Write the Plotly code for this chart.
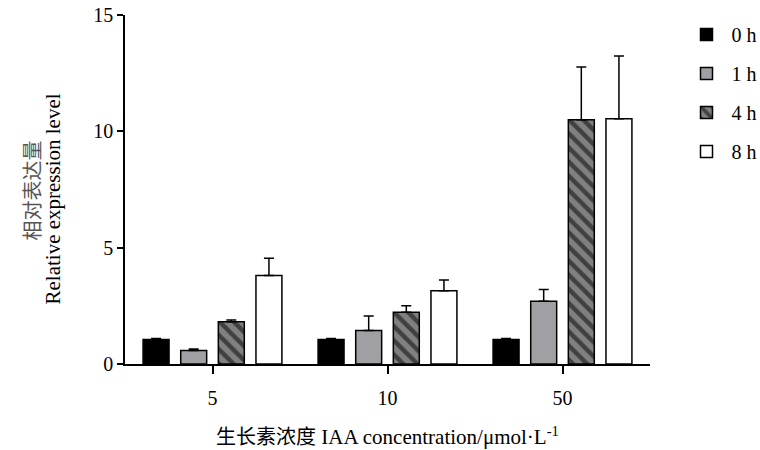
import plotly.graph_objects as go

categories = ["5", "10", "50"]
series_names = ["0 h", "1 h", "4 h", "8 h"]
values_0h = [1.05, 1.05, 1.05]
values_1h = [0.58, 1.44, 2.70]
values_4h = [1.82, 2.22, 10.50]
values_8h = [3.80, 3.15, 10.54]
err_0h = [0.05, 0.05, 0.05]
err_1h = [0.06, 0.62, 0.50]
err_4h = [0.07, 0.28, 2.27]
err_8h = [0.74, 0.46, 2.70]
y_ticks = [0, 5, 10, 15]
y_title_cn = "相对表达量"
y_title_en = "Relative expression level"
x_title_cn = "生长素浓度"
x_title_en = "IAA concentration/μmol·L<sup>-1</sup>"

values = [values_0h, values_1h, values_4h, values_8h]
errors = [err_0h, err_1h, err_4h, err_8h]
fills = ["#000000", "#A0A0A4", "#808080", "#FFFFFF"]
patterns = [None, None, dict(shape="\\", fgcolor="#000000", bgcolor="#808080",
                               size=10, solidity=0.45), None]

SERIF = '"Liberation Serif", "Noto Sans CJK SC", serif'

fig = go.Figure()
for i, name in enumerate(series_names):
    marker = dict(color=fills[i], line=dict(color="#000000", width=1.5))
    if patterns[i] is not None:
        marker["pattern"] = patterns[i]
    fig.add_trace(go.Bar(
        x=categories, y=values[i], name=name, marker=marker,
        legendgroup=name,
        error_y=dict(type="data", array=errors[i], arrayminus=[0] * len(errors[i]),
                     symmetric=False, color="#000000", thickness=1.5, width=5),
    ))

fig.update_layout(
    width=760, height=450,
    margin=dict(l=125, r=110, t=15, b=86, autoexpand=False),
    plot_bgcolor="white", paper_bgcolor="white",
    barmode="group", bargap=0.14, bargroupgap=0.31,
    font=dict(family=SERIF, size=20, color="#000000"),
    showlegend=True,
    legend=dict(x=1.06, y=1.0, xanchor="left", yanchor="top",
                font=dict(family=SERIF, size=20), tracegroupgap=10,
                itemwidth=40, bgcolor="rgba(0,0,0,0)"),
    xaxis=dict(
        type="category", range=[-0.5, 2.5],
        showline=True, linecolor="#000000", linewidth=1.5,
        ticks="outside", ticklen=8, tickwidth=1.5, tickcolor="#000000",
        ticklabelstandoff=7,
        showgrid=False, zeroline=False,
        tickfont=dict(family=SERIF, size=20),
        title=dict(text=f"<span style='font-size:20px'>{x_title_cn}</span> {x_title_en}",
                   font=dict(family=SERIF, size=21), standoff=22),
    ),
    yaxis=dict(
        range=[0, 15], tickvals=y_ticks, ticktext=[str(v) for v in y_ticks],
        showline=True, linecolor="#000000", linewidth=1.5,
        ticks="outside", ticklen=6, tickwidth=1.5, tickcolor="#000000",
        showgrid=False, zeroline=False,
        tickfont=dict(family=SERIF, size=20),
    ),
    annotations=[
        dict(text=y_title_cn, xref="paper", yref="paper", x=0, y=0.5,
             xanchor="center", yanchor="middle", textangle=-90,
             xshift=-93, yshift=-1, showarrow=False,
             font=dict(family=SERIF, size=20, color="#555555")),
        dict(text=y_title_en, xref="paper", yref="paper", x=0, y=0.5,
             xanchor="center", yanchor="middle", textangle=-90,
             xshift=-73, yshift=-10, showarrow=False,
             font=dict(family=SERIF, size=21, color="#000000")),
    ],
)

fig.write_html("out.html", config={"displayModeBar": False},
               post_script="document.body.style.margin='0';")
